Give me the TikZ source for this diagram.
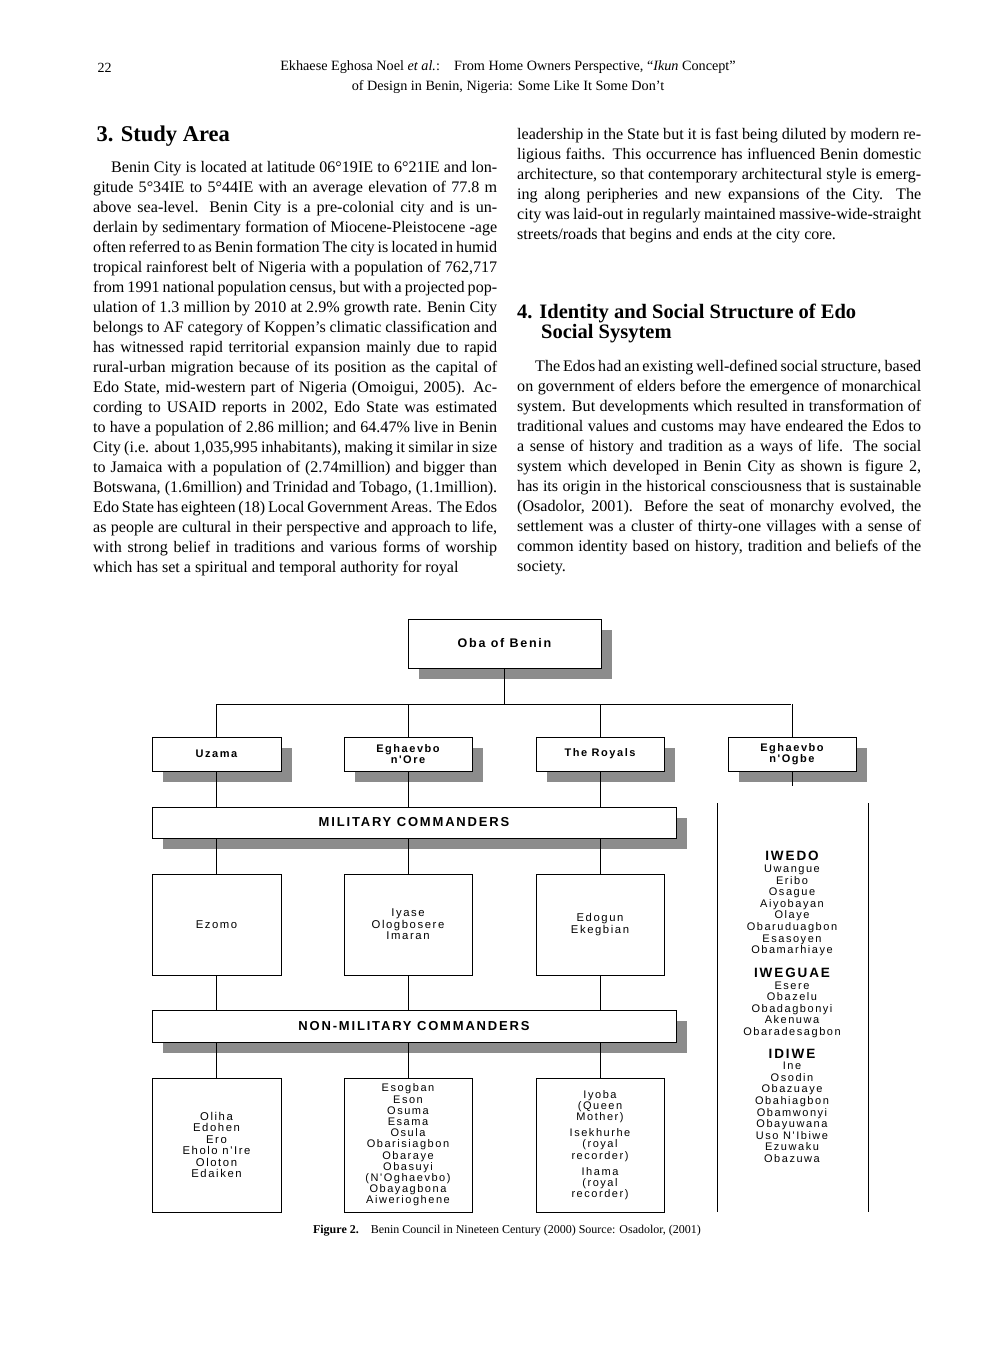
\documentclass[tikz,border=0pt]{standalone}
\usepackage{fontspec}
\setmainfont{Liberation Serif}
\newfontfamily\diag[LetterSpace=14]{Liberation Sans}
\begin{document}
\begin{tikzpicture}[x=1pt,y=-1pt,
 body/.style={anchor=north west,inner sep=0pt,text width=404pt,align=justify,font=\fontsize{16.1}{20}\selectfont},
 bx/.style={draw,line width=1pt,fill=white,inner sep=0pt,align=center,font=\diag\fontsize{11.3}{11.5}\selectfont},
 shad/.style={fill=black!45,draw=none},
 ln/.style={line width=1pt}]
\useasboundingbox (0,0) rectangle (992,1347);
% header
\node[anchor=west,font=\fontsize{14}{16}\selectfont] (pg) at (94,68) {22};
\node[align=center,font=\fontsize{14.2}{20}\selectfont] (hd) at (508,77) {Ekhaese Eghosa Noel \emph{et al.}:\quad From Home Owners Perspective, ``\emph{Ikun} Concept''\\ of Design in Benin, Nigeria: Some Like It Some Don't};
% left column
\node[anchor=west,font=\bfseries\fontsize{22.5}{24}\selectfont] (h3) at (93,136) {3. Study Area};
\node[body] (t1) at (93,161) {\hspace*{18pt}Benin City is located at latitude 06°19IE to 6°21IE and longitude 5°34IE to 5°44IE with an average elevation of 77.8 m above sea-level. Benin City is a pre-colonial city and is underlain by sedimentary formation of Miocene-Pleistocene -age often referred to as Benin formation The city is located in humid tropical rainforest belt of Nigeria with a population of 762,717 from 1991 national population census, but with a projected population of 1.3 million by 2010 at 2.9\% growth rate. Benin City belongs to AF category of Koppen's climatic classification and has witnessed rapid territorial expansion mainly due to rapid rural-urban migration because of its position as the capital of Edo State, mid-western part of Nigeria (Omoigui, 2005). According to USAID reports in 2002, Edo State was estimated to have a population of 2.86 million; and 64.47\% live in Benin City (i.e. about 1,035,995 inhabitants), making it similar in size to Jamaica with a population of (2.74million) and bigger than Botswana, (1.6million) and Trinidad and Tobago, (1.1million). Edo State has eighteen (18) Local Government Areas. The Edos as people are cultural in their perspective and approach to life, with strong belief in traditions and various forms of worship which has set a spiritual and temporal authority for royal};
% right column
\node[body] (t2) at (517,128) {leadership in the State but it is fast being diluted by modern religious faiths. This occurrence has influenced Benin domestic architecture, so that contemporary architectural style is emerging along peripheries and new expansions of the City. The city was laid-out in regularly maintained massive-wide-straight streets/roads that begins and ends at the city core.};
\node[anchor=north west,inner sep=0pt,align=left,font=\bfseries\fontsize{20.5}{20}\selectfont] (h4) at (517,304) {4. Identity and Social Structure of Edo\\\hspace*{24pt}Social Sysytem};
\node[body] (t3) at (517,360) {\hspace*{18pt}The Edos had an existing well-defined social structure, based on government of elders before the emergence of monarchical system. But developments which resulted in transformation of traditional values and customs may have endeared the Edos to a sense of history and tradition as a ways of life. The social system which developed in Benin City as shown is figure 2, has its origin in the historical consciousness that is sustainable (Osadolor, 2001). Before the seat of monarchy evolved, the settlement was a cluster of thirty-one villages with a sense of common identity based on history, tradition and beliefs of the society.};
% diagram shadows
\foreach \a/\b/\c/\d in {408/619/601/668, 152/737/281/771, 344/737/472/771, 536/737/664/771, 728/737/856/771, 152/807/676/838, 152/1010/676/1042}
  \fill[shad] (\a+11,\b+11) rectangle (\c+11,\d+11);
% boxes
\node[bx,minimum width=193pt,minimum height=49pt,font=\diag\bfseries\fontsize{12.5}{13}\selectfont] (oba) at (504.5,643.5) {Oba of Benin};
\node[bx,minimum width=129pt,minimum height=34pt,font=\diag\bfseries\fontsize{11}{11.5}\selectfont] (uz) at (216.5,754) {Uzama};
\node[bx,minimum width=128pt,minimum height=34pt,font=\diag\bfseries\fontsize{11}{11.5}\selectfont] (ore) at (408,754) {Eghaevbo\\n'Ore};
\node[bx,minimum width=128pt,minimum height=34pt,font=\diag\bfseries\fontsize{11}{11.5}\selectfont] (roy) at (600,754) {The Royals};
\node[bx,minimum width=128pt,minimum height=34pt,font=\diag\bfseries\fontsize{11}{11.5}\selectfont] (ogb) at (792,754) {Eghaevbo\\n'Ogbe};
\node[bx,minimum width=524pt,minimum height=31pt,font=\diag\bfseries\fontsize{13}{13}\selectfont] (mil) at (414,822.5) {MILITARY COMMANDERS};
\node[bx,minimum width=129pt,minimum height=101pt] (m1) at (216.5,924.5) {Ezomo};
\node[bx,minimum width=128pt,minimum height=101pt] (m2) at (408,924.5) {Iyase\\Ologbosere\\Imaran};
\node[bx,minimum width=128pt,minimum height=101pt] (m3) at (600,924.5) {Edogun\\Ekegbian};
\node[bx,minimum width=524pt,minimum height=32pt,font=\diag\bfseries\fontsize{13}{13}\selectfont] (non) at (414,1026) {NON-MILITARY COMMANDERS};
\node[bx,minimum width=129pt,minimum height=134pt] (b1) at (216.5,1145) {Oliha\\Edohen\\Ero\\Eholo n'Ire\\Oloton\\Edaiken};
\node[bx,minimum width=128pt,minimum height=134pt,font=\diag\fontsize{11}{11.2}\selectfont] (b2) at (408,1145) {Esogban\\Eson\\Osuma\\Esama\\Osula\\Obarisiagbon\\Obaraye\\Obasuyi\\(N'Oghaevbo)\\Obayagbona\\Aiwerioghene};
\node[bx,minimum width=128pt,minimum height=134pt,font=\diag\fontsize{11}{11.2}\selectfont] (b3) at (600,1145) {Iyoba\\(Queen\\Mother)\\[5pt]Isekhurhe\\(royal\\recorder)\\[5pt]Ihama\\(royal\\recorder)};
% right column list
\coordinate (rl1) at (717,803); \coordinate (rl2) at (717,1212);
\coordinate (rr1) at (868,803); \coordinate (rr2) at (868,1212);
\draw[ln] (rl1) -- (rl2); \draw[ln] (rr1) -- (rr2);
\node[align=center,inner sep=0pt,font=\diag\fontsize{11}{11.6}\selectfont] (lst) at (792,1007) {{\bfseries\fontsize{13.5}{14}\selectfont IWEDO}\\Uwangue\\Eribo\\Osague\\Aiyobayan\\Olaye\\Obaruduagbon\\Esasoyen\\Obamarhiaye\\[11pt]{\bfseries\fontsize{13.5}{14}\selectfont IWEGUAE}\\Esere\\Obazelu\\Obadagbonyi\\Akenuwa\\Obaradesagbon\\[11pt]{\bfseries\fontsize{13.5}{14}\selectfont IDIWE}\\Ine\\Osodin\\Obazuaye\\Obahiagbon\\Obamwonyi\\Obayuwana\\Uso N'Ibiwe\\Ezuwaku\\Obazuwa};
% connectors
\coordinate (hl) at (217,704); \coordinate (hr) at (791,704);
\draw[ln] (oba) -- (504.5,704);
\draw[ln] (hl) -- (hr);
\foreach \n in {uz,ore,roy,ogb} \draw[ln] (\n.north |- hl) -- (\n.north);
\foreach \n in {uz,ore,roy} \draw[ln] (\n.south) -- (\n.south |- mil.north);
\foreach \n/\m in {uz/m1,ore/m2,roy/m3} {\draw[ln] (\m.north |- mil.south) -- (\m.north); \draw[ln] (\m.south) -- (\m.south |- non.north); \draw[ln] (\m.south |- non.south) -- (\m.south |- 0,1078);}
\draw[ln] (ogb.south) -- ++(0,14) coordinate (og2);
\node[font=\fontsize{12}{14}\selectfont] (cap) at (507,1231) {\textbf{Figure 2.}\quad Benin Council in Nineteen Century (2000) Source: Osadolor, (2001)};
\end{tikzpicture}
\end{document}
